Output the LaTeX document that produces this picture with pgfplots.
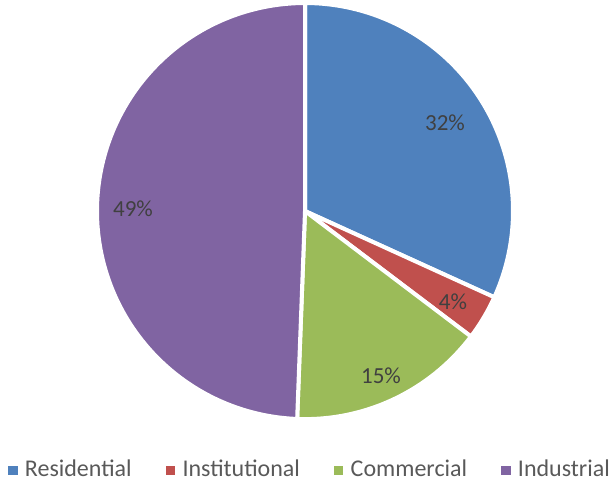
\documentclass[border=0pt]{standalone}
\usepackage{fontspec}
\setmainfont{Carlito}
\usepackage{pgfplots}
\pgfplotsset{compat=1.18}
\definecolor{cRes}{HTML}{4F81BD}
\definecolor{cIns}{HTML}{C0504D}
\definecolor{cCom}{HTML}{9BBB59}
\definecolor{cInd}{HTML}{8064A2}
\definecolor{labgray}{HTML}{404040}
\definecolor{leggray}{HTML}{595959}
% shares in percent (labels are rounded)
\def\vRes{31.8}\def\vIns{3.5}\def\vCom{15.3}\def\vInd{49.4}
\pgfmathsetmacro\aA{90}
\pgfmathsetmacro\aB{\aA-3.6*\vRes}
\pgfmathsetmacro\aC{\aB-3.6*\vIns}
\pgfmathsetmacro\aD{\aC-3.6*\vCom}
\pgfmathsetmacro\aE{\aD-3.6*\vInd}
\def\cx{305}\def\cy{211}\def\rr{208}
\begin{document}
\begin{tikzpicture}
\begin{axis}[
  hide axis, scale only axis, width=306.5pt, height=242.5pt,
  xmin=0, xmax=613, ymin=0, ymax=485, y dir=reverse, clip=false,
  legend columns=4,
  legend style={at={(axis cs:311,470)}, anchor=center, draw=none, fill=none,
    font=\fontsize{12}{14}\selectfont, text=leggray,
    /tikz/every even column/.append style={column sep=15pt}},
]
\addplot[forget plot, fill=cRes, draw=white, line width=2pt, line join=round, domain=\aB:\aA, samples=120, variable=\t]
  ({\cx+\rr*cos(\t)},{\cy-\rr*sin(\t)}) -- (axis cs:\cx,\cy) -- cycle;
\addplot[forget plot, fill=cIns, draw=white, line width=2pt, line join=round, domain=\aC:\aB, samples=30, variable=\t]
  ({\cx+\rr*cos(\t)},{\cy-\rr*sin(\t)}) -- (axis cs:\cx,\cy) -- cycle;
\addplot[forget plot, fill=cCom, draw=white, line width=2pt, line join=round, domain=\aD:\aC, samples=60, variable=\t]
  ({\cx+\rr*cos(\t)},{\cy-\rr*sin(\t)}) -- (axis cs:\cx,\cy) -- cycle;
\addplot[forget plot, fill=cInd, draw=white, line width=2pt, line join=round, domain=\aE:\aD, samples=160, variable=\t]
  ({\cx+\rr*cos(\t)},{\cy-\rr*sin(\t)}) -- (axis cs:\cx,\cy) -- cycle;
\addlegendimage{legend image code/.code={\fill[cRes] (0pt,-2.1pt) rectangle (4.2pt,2.1pt); \path (0pt,0pt) (6pt,0pt);}}
\addlegendimage{legend image code/.code={\fill[cIns] (0pt,-2.1pt) rectangle (4.2pt,2.1pt); \path (0pt,0pt) (6pt,0pt);}}
\addlegendimage{legend image code/.code={\fill[cCom] (0pt,-2.1pt) rectangle (4.2pt,2.1pt); \path (0pt,0pt) (6pt,0pt);}}
\addlegendimage{legend image code/.code={\fill[cInd] (0pt,-2.1pt) rectangle (4.2pt,2.1pt); \path (0pt,0pt) (6pt,0pt);}}
\legend{Residential, Institutional, Commercial, Industrial}
\node[text=labgray, font=\fontsize{11.5}{13}\selectfont] at (axis cs:445,123) {32\%};
\node[text=labgray, font=\fontsize{11.5}{13}\selectfont] at (axis cs:453,302) {4\%};
\node[text=labgray, font=\fontsize{11.5}{13}\selectfont] at (axis cs:381,376) {15\%};
\node[text=labgray, font=\fontsize{11.5}{13}\selectfont] at (axis cs:133,209) {49\%};
\end{axis}
\pgfresetboundingbox
\path (current axis.south west) rectangle (current axis.north east);
\end{tikzpicture}
\end{document}
